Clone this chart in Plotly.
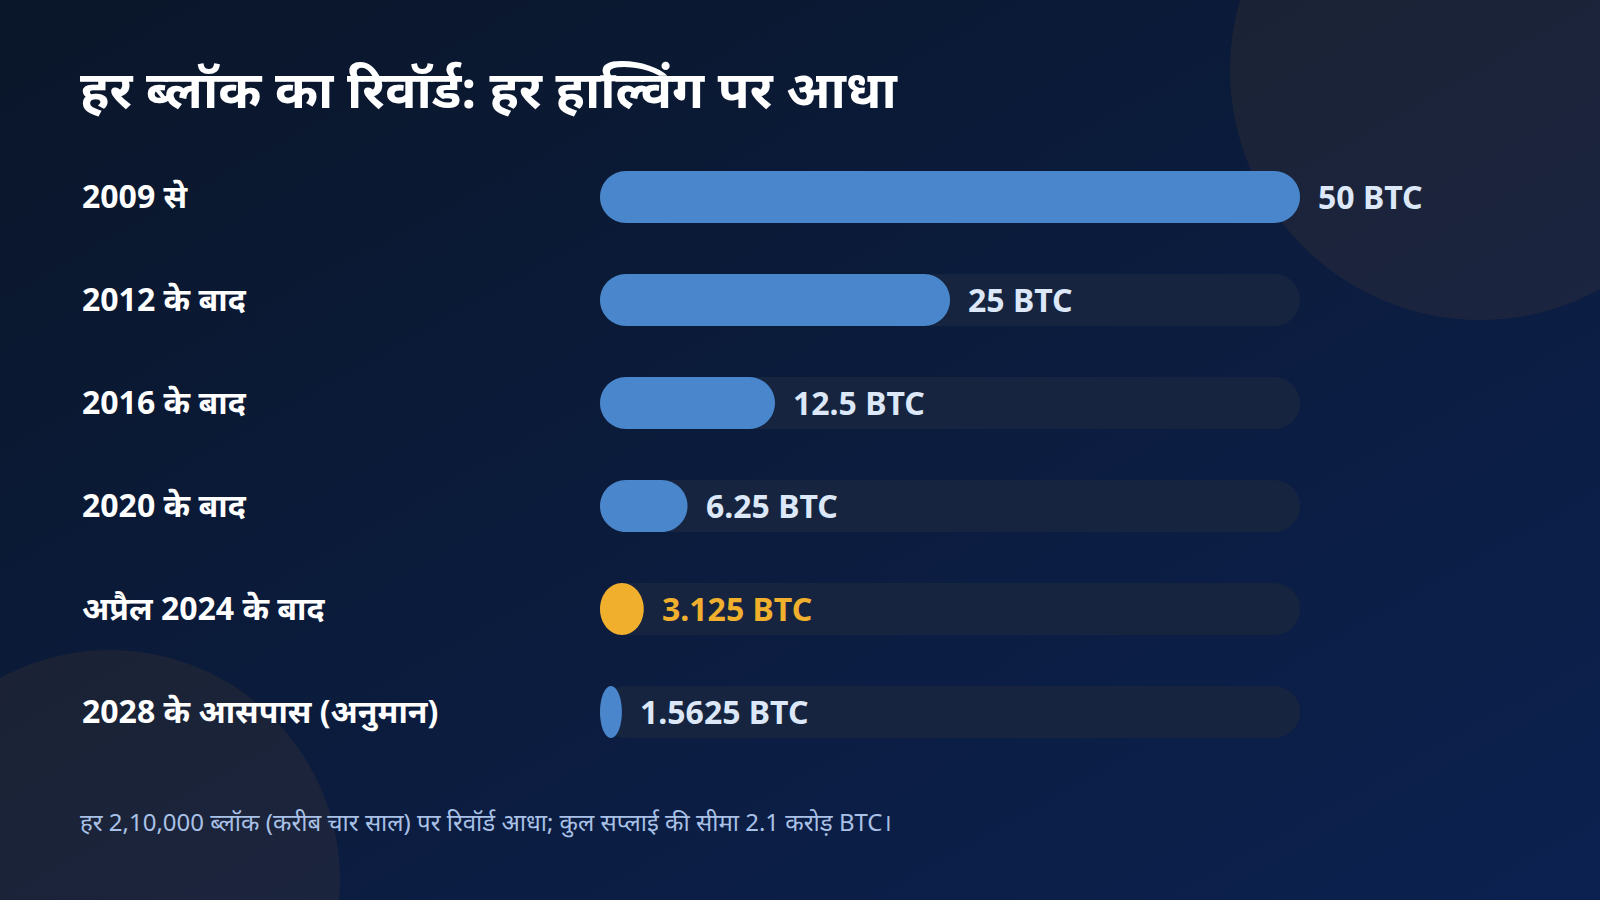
import urllib.parse
import plotly.graph_objects as go

# ---------------- data ----------------
categories = ["2009 से", "2012 के बाद", "2016 के बाद", "2020 के बाद", "अप्रैल 2024 के बाद", "2028 के आसपास (अनुमान)"]
rewards = [50, 25, 12.5, 6.25, 3.125, 1.5625]
value_labels = ["50 BTC", "25 BTC", "12.5 BTC", "6.25 BTC", "3.125 BTC", "1.5625 BTC"]
highlight = [False, False, False, False, True, False]
track_max = 50

title_text = "हर ब्लॉक का रिवॉर्ड: हर हाल्विंग पर आधा"
footer_text = "हर 2,10,000 ब्लॉक (करीब चार साल) पर रिवॉर्ड आधा; कुल सप्लाई की सीमा 2.1 करोड़ BTC।"

# ---------------- styling / geometry ----------------
W, H = 1600, 900
BAR_X0_PX = 600          # pixel where 0 BTC sits
BAR_SPAN_PX = 700        # pixels for track_max
ROW0_PX = 197            # pixel center of first row
ROW_STEP_PX = 103
BAR_H_PX = 52
CORNER_PX = 26

px_per_x = BAR_SPAN_PX / track_max
x_range = [-BAR_X0_PX / px_per_x, (W - BAR_X0_PX) / px_per_x]
y_range = [(H - ROW0_PX) / ROW_STEP_PX, -ROW0_PX / ROW_STEP_PX]  # reversed

FONT = "Noto Sans, Open Sans, sans-serif"
BLUE = "#4a86cc"
ORANGE = "#f0b02e"
TRACK = "#16243f"
LABEL = "#dce8f8"

K = 0.5523


def stadium(x0, x1, yc, hh, rx, ry):
    top, bot = yc - hh, yc + hh
    return (
        f"M {x0 + rx},{top} L {x1 - rx},{top} "
        f"C {x1 - rx + K * rx},{top} {x1},{top + ry - K * ry} {x1},{top + ry} "
        f"L {x1},{bot - ry} "
        f"C {x1},{bot - ry + K * ry} {x1 - rx + K * rx},{bot} {x1 - rx},{bot} "
        f"L {x0 + rx},{bot} "
        f"C {x0 + rx - K * rx},{bot} {x0},{bot - ry + K * ry} {x0},{bot - ry} "
        f"L {x0},{top + ry} "
        f"C {x0},{top + ry - K * ry} {x0 + rx - K * rx},{top} {x0 + rx},{top} Z"
    )


hh = (BAR_H_PX / 2) / ROW_STEP_PX
shapes = []
annotations = []

# background gradient + decorative circles as an inline SVG image
bg_svg = (
    "<svg xmlns='http://www.w3.org/2000/svg' width='1600' height='900'>"
    "<defs><linearGradient id='g' x1='0' y1='0' x2='1' y2='1'>"
    "<stop offset='0' stop-color='#0a1629'/><stop offset='1' stop-color='#0c2150'/>"
    "</linearGradient></defs>"
    "<rect width='1600' height='900' fill='url(#g)'/>"
    "<circle cx='1480' cy='70' r='250' fill='rgba(247,147,26,0.07)'/>"
    "<circle cx='110' cy='880' r='230' fill='rgba(247,147,26,0.07)'/>"
    "</svg>"
)
bg_uri = "data:image/svg+xml;charset=utf-8," + urllib.parse.quote(bg_svg)

label_x = (80 - BAR_X0_PX) / px_per_x

for i, (cat, val, lab, hl) in enumerate(zip(categories, rewards, value_labels, highlight)):
    # track
    rx_t = CORNER_PX / px_per_x
    shapes.append(dict(type="path", xref="x", yref="y", layer="below",
                       path=stadium(0, track_max, i, hh, rx_t, hh),
                       fillcolor=TRACK, line=dict(width=0)))
    # value bar
    w_px = val * px_per_x
    rx = min(CORNER_PX, w_px / 2) / px_per_x
    shapes.append(dict(type="path", xref="x", yref="y", layer="above",
                       path=stadium(0, val, i, hh, rx, hh),
                       fillcolor=ORANGE if hl else BLUE, line=dict(width=0)))
    # category label
    annotations.append(dict(x=label_x, xref="x", y=i, yref="y", yshift=2,
                            text=f"<b>{cat}</b>", showarrow=False,
                            xanchor="left", yanchor="middle",
                            font=dict(family=FONT, size=32, color="#ffffff")))
    # value label
    annotations.append(dict(x=val, xref="x", y=i, yref="y", xshift=16, yshift=1,
                            text=f"<b>{lab}</b>", showarrow=False,
                            xanchor="left", yanchor="middle",
                            font=dict(family=FONT, size=32, color=ORANGE if hl else LABEL)))

# title and footer
annotations.append(dict(x=78 / W, xref="paper", y=1 - 88 / H, yref="paper",
                        text=f"<b>{title_text}</b>", showarrow=False,
                        xanchor="left", yanchor="middle",
                        font=dict(family=FONT, size=52, color="#ffffff")))
annotations.append(dict(x=78 / W, xref="paper", y=1 - 821 / H, yref="paper",
                        text=footer_text, showarrow=False,
                        xanchor="left", yanchor="middle",
                        font=dict(family=FONT, size=24, color="#a9c1e6")))

fig = go.Figure()
fig.add_trace(go.Scatter(x=[None], y=[None], showlegend=False, hoverinfo="skip"))
fig.update_layout(
    width=W, height=H,
    margin=dict(l=0, r=0, t=0, b=0),
    paper_bgcolor="#0a1a38",
    plot_bgcolor="rgba(0,0,0,0)",
    xaxis=dict(range=x_range, visible=False, fixedrange=True),
    yaxis=dict(range=y_range, visible=False, fixedrange=True),
    shapes=shapes,
    annotations=annotations,
    images=[dict(source=bg_uri, xref="paper", yref="paper", x=0, y=1,
                 sizex=1, sizey=1, sizing="stretch", layer="below",
                 xanchor="left", yanchor="top")],
    showlegend=False,
)
fig.write_html(
    "out.html",
    config={"displayModeBar": False},
    post_script="document.body.style.margin='0';document.body.style.background='#0a1a38';"
                "document.documentElement.style.overflow='hidden';",
)
